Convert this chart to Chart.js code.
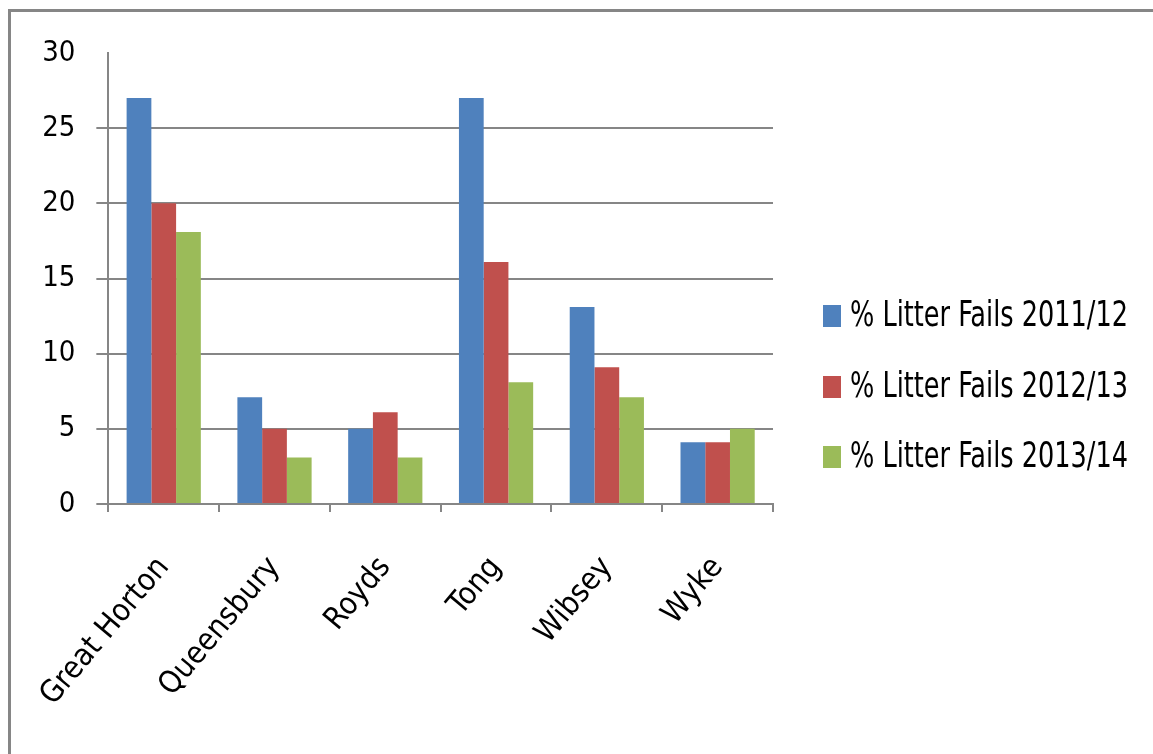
<!DOCTYPE html>
<html>
<head>
<meta charset="utf-8">
<script src="https://cdn.jsdelivr.net/npm/chart.js@4.4.1/dist/chart.umd.min.js"></script>
<style>
  html, body { margin: 0; padding: 0; background: #ffffff; }
  #wrap { position: relative; width: 1153px; height: 754px; }
  #frame { position: absolute; left: 8px; top: 9px; right: 0; bottom: 0;
           border-top: 3px solid #868686; border-left: 3px solid #868686; pointer-events: none; }
  canvas { position: absolute; left: 0; top: 0; }
</style>
</head>
<body>
<div id="wrap">
  <canvas id="c" width="1153" height="754"></canvas>
  <div id="frame"></div>
</div>
<script>
const categories = ["Great Horton", "Queensbury", "Royds", "Tong", "Wibsey", "Wyke"];
const seriesLabels = ["% Litter Fails 2011/12", "% Litter Fails 2012/13", "% Litter Fails 2013/14"];
const fails2011 = [27, 7.1, 5, 27, 13.1, 4.1];
const fails2012 = [20, 5, 6.1, 16.1, 9.1, 4.1];
const fails2013 = [18.1, 3.1, 3.1, 8.1, 7.1, 5];
const yTicks = [0, 5, 10, 15, 20, 25, 30];

const colors = ["#4F81BD", "#C0504D", "#9BBB59"];
const FONT = "'DejaVu Sans Condensed', 'Liberation Sans', sans-serif";
const GRID = "#868686";

const legendPlugin = {
  id: 'customLegend',
  afterDraw(chart) {
    const ctx = chart.ctx;
    const centers = [316, 387, 457];
    ctx.save();
    ctx.font = "35px " + FONT;
    ctx.textBaseline = 'middle';
    ctx.textAlign = 'left';
    chart.data.datasets.forEach((ds, i) => {
      const cy = centers[i];
      ctx.fillStyle = ds.backgroundColor;
      ctx.fillRect(823, cy - 11, 18, 22);
      ctx.fillStyle = '#000000';
      ctx.fillText(ds.label, 850, cy + 1, 278);
    });
    ctx.restore();
  }
};

new Chart(document.getElementById('c'), {
  type: 'bar',
  data: {
    labels: categories,
    datasets: [
      { label: seriesLabels[0], data: fails2011, backgroundColor: colors[0] },
      { label: seriesLabels[1], data: fails2012, backgroundColor: colors[1] },
      { label: seriesLabels[2], data: fails2013, backgroundColor: colors[2] }
    ]
  },
  options: {
    responsive: false,
    animation: false,
    devicePixelRatio: 1,
    categoryPercentage: 0.67,
    barPercentage: 1.0,
    layout: { padding: { left: 0, right: 380, top: 53, bottom: 0 } },
    plugins: {
      legend: { display: false },
      tooltip: { enabled: false },
      title: { display: false }
    },
    scales: {
      x: {
        afterFit(scale) { scale.height = 250; },
        grid: {
          offset: true,
          drawOnChartArea: false,
          drawTicks: true,
          tickLength: 8,
          color: GRID,
          lineWidth: 2
        },
        border: { display: true, color: GRID, width: 2 },
        ticks: {
          color: '#000000',
          font: { family: FONT, size: 31 },
          maxRotation: 50,
          minRotation: 50,
          padding: 38,
          autoSkip: false
        }
      },
      y: {
        min: 0,
        max: 30,
        afterFit(scale) { scale.width = 108; },
        afterBuildTicks(scale) { scale.ticks = yTicks.map(v => ({ value: v })); },
        grid: {
          color: (c) => (c.tick && c.tick.value === 30) ? 'rgba(0,0,0,0)' : GRID,
          lineWidth: 2,
          tickLength: 12,
          drawTicks: true
        },
        border: { display: true, color: GRID, width: 2 },
        ticks: {
          color: '#000000',
          font: { family: FONT, size: 29 },
          padding: 21
        }
      }
    }
  },
  plugins: [legendPlugin]
});
</script>
</body>
</html>
